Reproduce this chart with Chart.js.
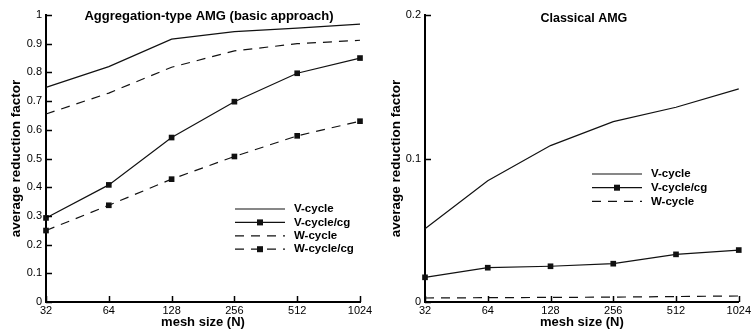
<!DOCTYPE html>
<html>
<head>
<meta charset="utf-8">
<script src="https://cdn.jsdelivr.net/npm/chart.js@4.4.1/dist/chart.umd.min.js"></script>
<style>
  body { margin: 0; background: #fff; }
  .panel { position: absolute; top: 0; height: 332px; }
  #leftPanel { left: 0; width: 376px; }
  #rightPanel { left: 376px; width: 377px; }
</style>
</head>
<body>
<div class="panel" id="leftPanel"><canvas id="aggChart" width="376" height="332"></canvas></div>
<div class="panel" id="rightPanel"><canvas id="classicChart" width="377" height="332"></canvas></div>
<script>
// mesh sizes (x categories)
const meshSizes = ['32', '64', '128', '256', '512', '1024'];

// Aggregation-type AMG (basic approach)
const aggVCycle = [0.748, 0.820, 0.916, 0.942, 0.954, 0.968];
const aggVCycleCg = [0.293, 0.408, 0.573, 0.698, 0.797, 0.850];
const aggWCycle = [0.655, 0.728, 0.818, 0.875, 0.900, 0.912];
const aggWCycleCg = [0.249, 0.337, 0.428, 0.507, 0.579, 0.630];

// Classical AMG
const clsVCycle = [0.051, 0.0845, 0.109, 0.1257, 0.1357, 0.1485];
const clsVCycleCg = [0.0172, 0.0239, 0.0249, 0.0267, 0.0332, 0.0362];
const clsWCycle = [0.0028, 0.0030, 0.0032, 0.0034, 0.0038, 0.0042];

const FONT = '"Liberation Sans", Arial, Helvetica, sans-serif';
const DASH = [9, 7];

// panel title drawn inside the plot area
const panelTitle = {
    id: 'panelTitle',
    afterDraw(chart, args, opts) {
        const { ctx, chartArea } = chart;
        ctx.save();
        ctx.font = `bold ${opts.size}px ${FONT}`;
        ctx.fillStyle = '#000';
        ctx.textAlign = 'center';
        ctx.textBaseline = 'middle';
        ctx.fillText(opts.text, (chartArea.left + chartArea.right) / 2 + opts.dx, chartArea.top + opts.dy);
        ctx.restore();
    }
};

// tick marks pointing into the plot
const innerTicks = {
    id: 'innerTicks',
    afterDraw(chart) {
        const { ctx, chartArea, scales } = chart;
        ctx.save();
        ctx.strokeStyle = '#000';
        ctx.lineWidth = 1.5;
        ctx.beginPath();
        scales.y.ticks.forEach((t, i) => {
            const py = Math.round(scales.y.getPixelForTick(i)) + 0.5;
            ctx.moveTo(chartArea.left, py);
            ctx.lineTo(chartArea.left + 6, py);
        });
        scales.x.ticks.forEach((t, i) => {
            const px = Math.round(scales.x.getPixelForTick(i)) + 0.5;
            ctx.moveTo(px, chartArea.bottom);
            ctx.lineTo(px, chartArea.bottom - 6);
        });
        ctx.stroke();
        ctx.restore();
    }
};

// legend box inside the plot
const insideLegend = {
    id: 'insideLegend',
    afterDraw(chart, args, opts) {
        const { ctx } = chart;
        ctx.save();
        chart.data.datasets.forEach((ds, i) => {
            const y = opts.y + i * opts.rowHeight;
            ctx.strokeStyle = ds.borderColor;
            ctx.lineWidth = ds.borderWidth;
            ctx.setLineDash(ds.borderDash || []);
            ctx.beginPath();
            ctx.moveTo(opts.x, y);
            ctx.lineTo(opts.x + opts.lineLength, y);
            ctx.stroke();
            ctx.setLineDash([]);
            if (ds.pointRadius > 0) {
                const s = 3;
                ctx.fillStyle = ds.borderColor;
                ctx.fillRect(opts.x + opts.lineLength / 2 - s, y - s, 2 * s, 2 * s);
            }
            ctx.font = `bold 11.5px ${FONT}`;
            ctx.fillStyle = '#000';
            ctx.textAlign = 'left';
            ctx.textBaseline = 'middle';
            ctx.fillText(ds.label, opts.x + opts.lineLength + 9, y);
        });
        ctx.restore();
    }
};

function series(label, data, dashed, markers) {
    return {
        label: label,
        data: data,
        borderColor: '#111',
        backgroundColor: '#111',
        borderWidth: 1.2,
        borderDash: dashed ? DASH : [],
        pointStyle: 'rect',
        pointRadius: markers ? 4 : 0,
        pointBackgroundColor: '#111',
        pointBorderWidth: 0,
        tension: 0,
        fill: false,
        clip: false
    };
}

function buildChart(canvasId, datasets, yMax, yStep, yAxisWidth, padRight, titleOpts, legendOpts, yTitlePad) {
    const ctx = document.getElementById(canvasId).getContext('2d');
    return new Chart(ctx, {
        type: 'line',
        data: { labels: meshSizes, datasets: datasets },
        plugins: [panelTitle, innerTicks, insideLegend],
        options: {
            responsive: false,
            animation: false,
            devicePixelRatio: 1,
            layout: { padding: { top: 15, right: padRight, bottom: 0, left: 0 } },
            plugins: {
                legend: { display: false },
                tooltip: { enabled: false },
                panelTitle: titleOpts,
                insideLegend: legendOpts
            },
            scales: {
                x: {
                    type: 'category',
                    offset: false,
                    grid: { display: false, drawTicks: false, tickLength: 0 },
                    border: { display: true, color: '#000', width: 2 },
                    ticks: { color: '#000', padding: 2, maxRotation: 0, autoSkip: false, font: { family: FONT, size: 11 } },
                    title: { display: true, text: 'mesh size (N)', color: '#000', padding: { top: 0, bottom: 2 }, font: { family: FONT, size: 13, weight: 'bold' } },
                    afterFit: function(scale) { scale.height = 30; }
                },
                y: {
                    min: 0,
                    max: yMax,
                    grid: { display: false, drawTicks: false, tickLength: 0 },
                    border: { display: true, color: '#000', width: 2 },
                    ticks: {
                        stepSize: yStep, color: '#000', padding: 4, font: { family: FONT, size: 11 },
                        callback: function(value) { return String(Number(value.toFixed(3))); }
                    },
                    title: { display: true, text: 'average reduction factor', color: '#000', padding: { top: yTitlePad, bottom: 0 }, font: { family: FONT, size: 13.5, weight: 'bold' } },
                    afterFit: function(scale) { scale.width = yAxisWidth; }
                }
            }
        }
    });
}

buildChart('aggChart', [
    series('V-cycle', aggVCycle, false, false),
    series('V-cycle/cg', aggVCycleCg, false, true),
    series('W-cycle', aggWCycle, true, false),
    series('W-cycle/cg', aggWCycleCg, true, true)
], 1, 0.1, 46, 16,
{ text: 'Aggregation-type AMG (basic approach)', size: 13, dx: 6, dy: 1 },
{ x: 235, y: 209, rowHeight: 13.4, lineLength: 50 }, 8);

buildChart('classicChart', [
    series('V-cycle', clsVCycle, false, false),
    series('V-cycle/cg', clsVCycleCg, false, true),
    series('W-cycle', clsWCycle, true, false)
], 0.2, 0.1, 49, 14,
{ text: 'Classical AMG', size: 12.5, dx: 2, dy: 3.5 },
{ x: 216, y: 174, rowHeight: 13.7, lineLength: 50 }, 12);
</script>
</body>
</html>
